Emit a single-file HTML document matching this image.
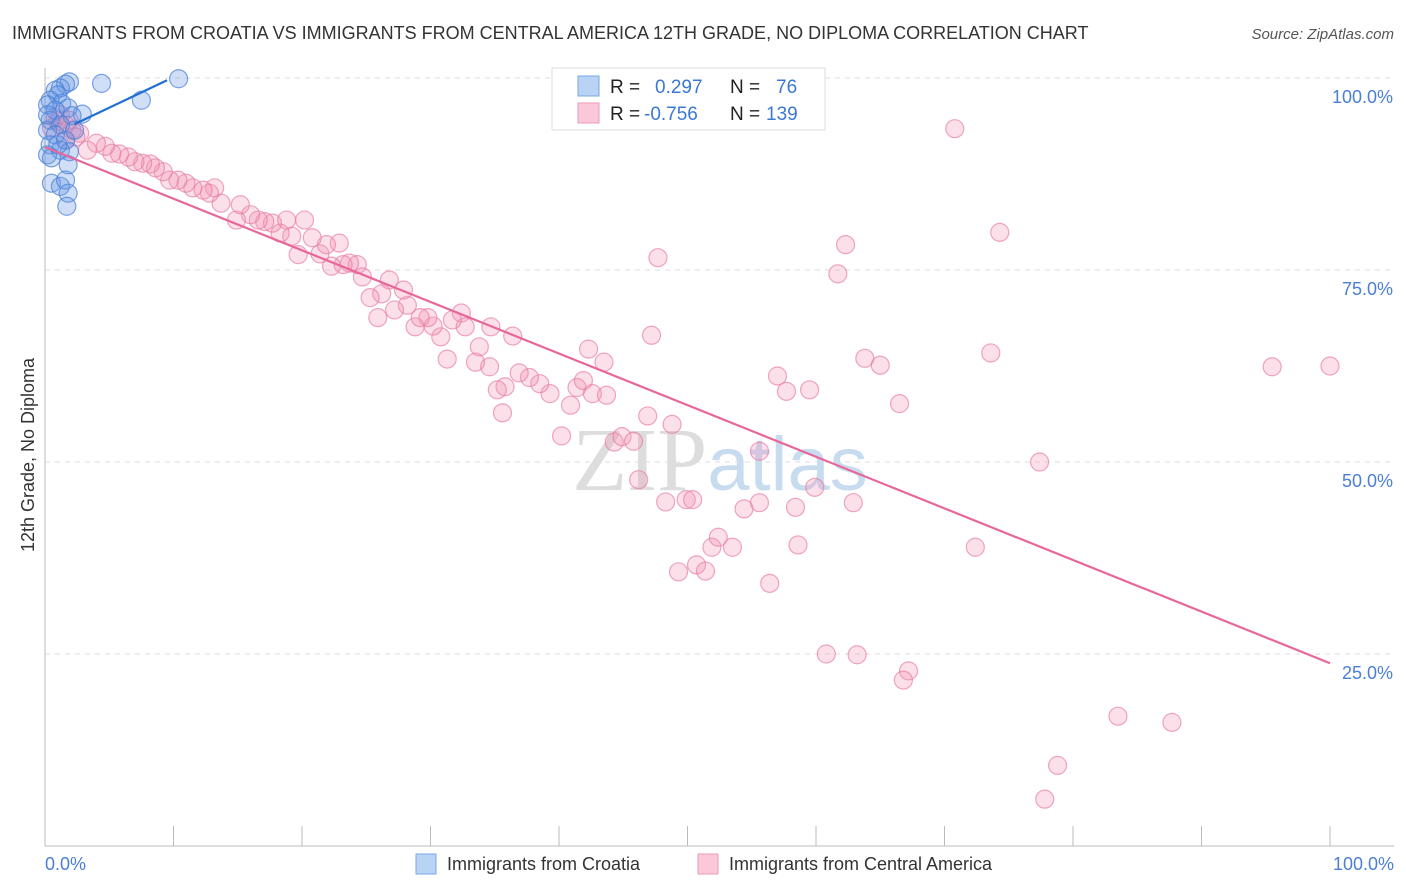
<!DOCTYPE html>
<html><head><meta charset="utf-8"><style>
body{margin:0;background:#fff;font-family:"Liberation Sans",sans-serif;}
svg{display:block}
</style></head><body>
<svg id="chart" width="1406" height="892" xmlns="http://www.w3.org/2000/svg">
<text x="12" y="39" font-size="18" fill="#333">IMMIGRANTS FROM CROATIA VS IMMIGRANTS FROM CENTRAL AMERICA 12TH GRADE, NO DIPLOMA CORRELATION CHART</text>
<text x="1394" y="39" font-size="15" fill="#555" font-style="italic" text-anchor="end">Source: ZipAtlas.com</text>
<text x="720" y="490" font-size="90" fill="#ddd" text-anchor="middle" font-family="Liberation Serif,serif">ZIP<tspan fill="#c8dcf0" font-family="Liberation Sans,sans-serif" font-size="76">atlas</tspan></text>
<g id="grid"></g>
<g id="pts"></g>
<g id="lines"></g>
<text transform="translate(34,455) rotate(-90)" font-size="18" fill="#333" text-anchor="middle">12th Grade, No Diploma</text>
<text x="45" y="870" font-size="18" fill="#4a7fd4">0.0%</text>
<text x="1394" y="870" font-size="18" fill="#4a7fd4" text-anchor="end">100.0%</text>
<g>
<rect x="552" y="68" width="273" height="62" fill="#fff" stroke="#ddd"/>
<rect x="578" y="76" width="21" height="20" fill="#b9d3f5" stroke="#7aa6e6"/>
<rect x="578" y="103" width="21" height="20" fill="#fac8d8" stroke="#ee9ab6"/>
<text x="610" y="93" font-size="19" fill="#222">R =</text>
<text x="655" y="93" font-size="19" fill="#3a78d4">0.297</text>
<text x="730" y="93" font-size="19" fill="#222">N =</text>
<text x="776" y="93" font-size="19" fill="#3a78d4">76</text>
<text x="610" y="120" font-size="19" fill="#222">R =</text>
<text x="644" y="120" font-size="19" fill="#3a78d4">-0.756</text>
<text x="730" y="120" font-size="19" fill="#222">N =</text>
<text x="766" y="120" font-size="19" fill="#3a78d4">139</text>
</g>
<g>
<rect x="416" y="854" width="20" height="20" fill="#b9d3f5" stroke="#7aa6e6"/>
<text x="447" y="870" font-size="18" fill="#333">Immigrants from Croatia</text>
<rect x="698" y="854" width="20" height="20" fill="#fac8d8" stroke="#ee9ab6"/>
<text x="729" y="870" font-size="18" fill="#333">Immigrants from Central America</text>
</g>
</svg>
<script>
const yTicks=[25,50,75,100];
const yTickLabels=["25.0%","50.0%","75.0%","100.0%"];
const xTicks=[0,10,20,30,40,50,60,70,80,90,100];
const blueX=[1.9,1.6,4.4,10.4,7.5,2.9,1.2,0.8,1.0,0.4,1.3,0.2,1.8,0.8,2.1,0.4,1.2,0.2,0.8,1.6,0.4,1.2,0.2,1.9,1.8,0.5,1.2,1.6,1.8,1.7,0.2,1.0,2.3,0.5];
const blueY=[99.5,99.2,99.3,99.9,97.1,95.3,98.7,98.4,97.8,97.1,96.7,96.5,96.1,95.8,95.1,94.5,93.9,93.2,92.6,91.9,91.3,90.6,90.0,90.4,88.7,86.3,85.9,86.7,85.0,83.3,95.2,91.3,93.2,89.6];
const pinkX=[54.2,70.8,74.3,62.3,61.7,47.7,47.2,73.6,63.8,65.0,95.5,100,66.5,57.0,57.7,59.5,77.4,55.6,59.9,62.9,58.4,54.4,55.6,58.6,72.4,56.4,60.8,63.2,67.2,66.8,83.5,87.7,78.8,77.8,48.3,49.9,50.4,48.8,46.9,46.2,49.3,50.7,51.4,51.9,52.4,53.5,44.3,44.9,45.8,42.3,43.5,41.4,41.9,42.6,43.7,40.9,40.2,39.3,38.5,37.7,36.9,35.8,35.2,35.6,34.6,33.5,31.3,36.4,34.7,33.8,32.4,32.7,31.7,30.8,30.2,29.8,28.8,29.2,28.2,27.2,27.9,26.8,26.2,25.3,25.9,24.7,24.3,23.7,23.2,22.3,21.4,22.9,21.9,20.8,19.7,20.2,18.8,19.2,18.3,17.7,17.1,16.6,16.0,14.9,15.2,13.7,13.2,12.8,12.3,11.5,10.97,10.35,9.7,9.2,8.6,8.2,7.6,7.0,6.5,5.8,5.2,4.7,4.0,3.3,2.7,2.1,1.6,1.0,0.5,0.8,1.2,1.9,2.4,1.6];
const pinkY=[99.7,93.4,79.9,78.3,74.5,76.6,66.5,64.2,63.5,62.6,62.4,62.5,57.6,61.2,59.2,59.4,50.0,51.4,46.7,44.7,44.1,43.9,44.7,39.2,38.9,34.2,25.0,24.9,22.8,21.6,16.9,16.1,10.5,6.1,44.8,45.1,45.1,54.9,56.0,47.7,35.7,36.6,35.8,38.9,40.2,38.9,52.6,53.3,52.7,64.7,63.0,59.7,60.6,58.9,58.7,57.4,53.4,58.9,60.2,61.0,61.6,59.8,59.4,56.4,62.4,63.0,63.4,66.4,67.6,65.0,69.4,67.6,68.5,66.3,67.7,68.8,67.6,68.8,70.4,69.8,72.4,73.7,71.9,71.4,68.8,74.1,75.7,75.9,75.7,75.5,77.1,78.5,78.3,79.2,77.0,81.5,81.5,79.4,79.8,81.1,81.3,81.5,82.2,81.5,83.5,83.7,85.7,85.0,85.4,85.7,86.3,86.7,86.7,87.8,88.3,88.8,88.9,89.1,89.7,90.1,90.2,91.1,91.5,90.6,92.8,93.2,93.9,94.3,93.5,94.8,95.2,94.5,92.3,91.9];
const blueTrendX=[2.3,9.5];
const blueTrendY=[94.0,99.7];
const pinkTrendX=[0,100];
const pinkTrendY=[91.0,23.8];
const NS="http://www.w3.org/2000/svg";
function sx(v){return 45+v*12.85;}
function sy(v){return 846-v*7.68;}
function mk(t,a,p){const e=document.createElementNS(NS,t);for(const k in a)e.setAttribute(k,a[k]);p.appendChild(e);return e;}
const grid=document.getElementById('grid');
const ax=mk('line',{x1:45,y1:68,x2:45,y2:846,stroke:'#bbb'},grid);


const bx=mk('line',{x1:45,y1:846,x2:1394,y2:846,stroke:'#bbb'},grid);


yTicks.forEach((t,i)=>{
 const g=mk('line',{x1:45,y1:sy(t),x2:1394,y2:sy(t),stroke:'#ddd','stroke-dasharray':'5,5'},grid);
 
 
 const l=mk('text',{x:1393,y:sy(t)+25,'font-size':18,fill:'#4a7fd4','text-anchor':'end'},grid);
 l.textContent=yTickLabels[i];
 
 
});
xTicks.forEach(t=>{
 const k=mk('line',{x1:sx(t),y1:826,x2:sx(t),y2:846,stroke:'#bbb'},grid);
 
 
});
const pts=document.getElementById('pts');
pinkX.forEach((x,i)=>{
 const c=mk('circle',{cx:sx(x),cy:sy(pinkY[i]),r:9,fill:'rgba(242,150,182,0.3)',stroke:'rgba(232,120,160,0.65)','stroke-width':1.2},pts);
 
 
});
blueX.forEach((x,i)=>{
 const c=mk('circle',{cx:sx(x),cy:sy(blueY[i]),r:9,fill:'rgba(100,150,230,0.3)',stroke:'rgba(70,125,215,0.7)','stroke-width':1.2},pts);
 
 
});
const ln=document.getElementById('lines');
const pl=mk('line',{x1:sx(pinkTrendX[0]),y1:sy(pinkTrendY[0]),x2:sx(pinkTrendX[1]),y2:sy(pinkTrendY[1]),stroke:'#e8679a','stroke-width':2.2},ln);


const bl=mk('line',{x1:sx(blueTrendX[0]),y1:sy(blueTrendY[0]),x2:sx(blueTrendX[1]),y2:sy(blueTrendY[1]),stroke:'#1f6fd6','stroke-width':2.2},ln);


</script>
</body></html>
